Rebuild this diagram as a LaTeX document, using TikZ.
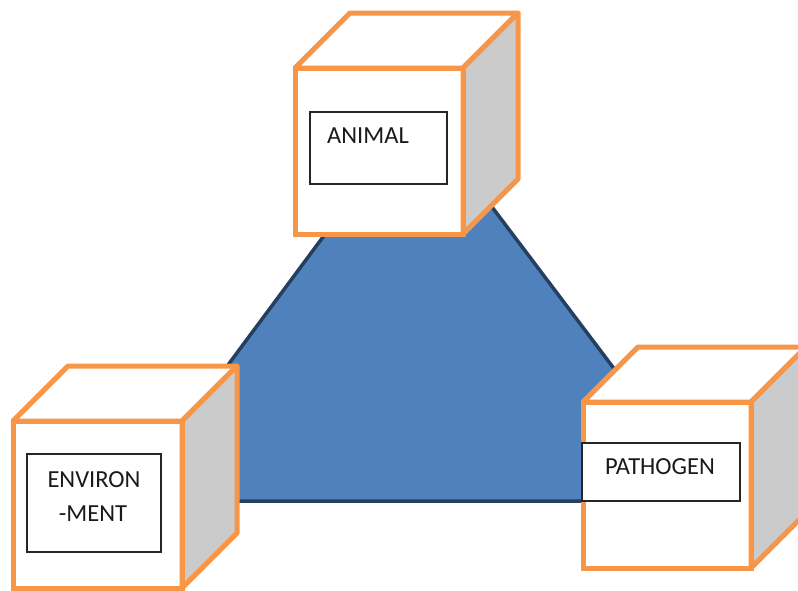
\documentclass[tikz,border=0pt]{standalone}
\usepackage{fontspec}
\setmainfont{Carlito}
\definecolor{cubeor}{HTML}{F79646}
\definecolor{sidegray}{HTML}{CBCBCB}
\definecolor{trifill}{HTML}{4F81BD}
\definecolor{triline}{HTML}{243F60}
\definecolor{txt}{HTML}{1A1A1A}
\tikzset{
  front/.style={draw=cubeor, line width=5pt, fill=white, minimum width=168pt, minimum height=166pt, inner sep=0pt, outer sep=0pt, anchor=north west},
  topface/.style={draw=cubeor, line width=5pt, fill=white, line join=round},
  sideface/.style={draw=cubeor, line width=5pt, fill=sidegray, line join=round},
  labelbox/.style={draw=black!85, line width=1.4pt, fill=white, inner sep=0pt},
  labeltext/.style={font=\fontsize{24.5}{34}\selectfont, text=txt, inner sep=0pt, align=center},
  tri/.style={draw=triline, line width=3.5pt, fill=trifill, line join=miter}
}
\newcommand{\cubesides}[3]{%
  \filldraw[topface] (#1.north west) -- ++(55,-55) -- ++(#2,0) -- (#1.north east) -- cycle;
  \filldraw[sideface] (#1.north east) -- ++(55,-55) -- ++(0,#3) -- (#1.south east) -- cycle;
  \draw[draw=cubeor, line width=5pt, line join=round] (#1.north west) rectangle (#1.south east);
}
\begin{document}
\begin{tikzpicture}[x=1pt,y=-1pt]
\useasboundingbox (0,0) rectangle (798,590);
% triangle
\coordinate (ta) at (418,109);
\coordinate (tl) at (127,501);
\coordinate (tr) at (714,501);
\filldraw[tri] (ta) -- (tl) -- (tr) -- cycle;
% animal cube
\node[front] (animal) at (295,68) {};
\cubesides{animal}{168}{166}
\node[labelbox, minimum width=137pt, minimum height=72pt] (animalbox) at (378.5,148) {};
\node[labeltext, anchor=base west] (animaltxt) at (327,143.3) {ANIMAL};
% environment cube
\node[front, minimum width=169pt, minimum height=167pt] (env) at (13,421) {};
\cubesides{env}{169}{167}
\node[labelbox, minimum width=134pt, minimum height=98pt] (envbox) at (94,503) {};
\node[labeltext, anchor=base] (envtxt1) at (94,487) {ENVIRON};
\node[labeltext, anchor=base] (envtxt2) at (93,521) {-MENT};
% pathogen cube
\node[front] (path) at (583,402) {};
\cubesides{path}{168}{166}
\node[labelbox, minimum width=158pt, minimum height=58pt] (pathbox) at (661,472) {};
\node[labeltext, anchor=base] (pathtxt) at (660,474) {PATHOGEN};
\end{tikzpicture}
\end{document}
